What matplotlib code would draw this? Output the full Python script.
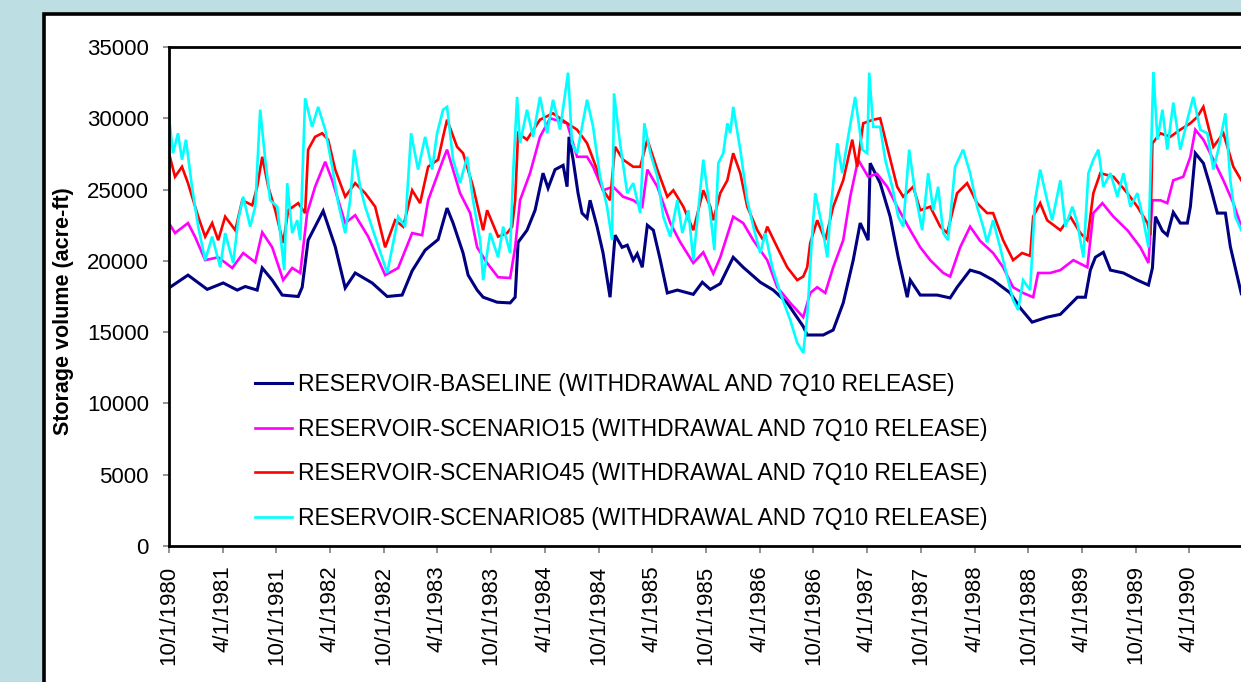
import numpy as np
import pandas as pd
import matplotlib
matplotlib.use("Agg")
import matplotlib.pyplot as plt
import matplotlib.dates as mdates
from matplotlib.patches import Rectangle

plt.rcParams['font.family'] = ['Liberation Sans', 'DejaVu Sans']

# time in decimal years, storage in acre-ft
base_t = [1980.750, 1980.927, 1981.104, 1981.253, 1981.383, 1981.458, 1981.569, 1981.616, 1981.709, 1981.802,
          1981.951, 1981.988, 1982.044, 1982.184, 1982.296, 1982.389, 1982.482, 1982.640, 1982.780, 1982.919,
          1983.013, 1983.134, 1983.255, 1983.338, 1983.394, 1983.487, 1983.534, 1983.618, 1983.674, 1983.804,
          1983.925, 1983.972, 1984.000, 1984.083, 1984.158, 1984.232, 1984.279, 1984.344, 1984.419, 1984.456,
          1984.474, 1984.512, 1984.558, 1984.595, 1984.642, 1984.670, 1984.735, 1984.791, 1984.856, 1984.903,
          1984.968, 1985.014, 1985.070, 1985.107, 1985.154, 1985.201, 1985.257, 1985.322, 1985.387, 1985.480,
          1985.629, 1985.713, 1985.787, 1985.880, 1986.001, 1986.094, 1986.253, 1986.374, 1986.504, 1986.653,
          1986.690, 1986.839, 1986.932, 1987.026, 1987.119, 1987.184, 1987.258, 1987.277, 1987.370, 1987.463,
          1987.538, 1987.622, 1987.650, 1987.743, 1987.901, 1988.022, 1988.087, 1988.208, 1988.301, 1988.422,
          1988.581, 1988.674, 1988.785, 1988.925, 1989.046, 1989.204, 1989.279, 1989.325, 1989.372, 1989.446,
          1989.512, 1989.633, 1989.763, 1989.866, 1989.903, 1989.931, 1989.996, 1990.042, 1990.098, 1990.163,
          1990.229, 1990.257, 1990.303, 1990.378, 1990.443, 1990.508, 1990.583, 1990.629, 1990.694, 1990.731]
base_v = [18100, 19000, 18000, 18450, 17950, 18200, 17950, 19500, 18650, 17600,
          17500, 18150, 21450, 23500, 21000, 18100, 19150, 18450, 17500, 17600,
          19300, 20750, 21500, 23700, 22650, 20550, 19000, 17950, 17450, 17100,
          17050, 17450, 21300, 22150, 23550, 26150, 25100, 26400, 26700, 25200,
          28700, 27100, 24750, 23350, 23000, 24250, 22400, 20550, 17450, 21800,
          20950, 21100, 20050, 20500, 19550, 22500, 22150, 20050, 17750, 17950,
          17650, 18500, 18000, 18400, 20250, 19550, 18500, 17950, 17050, 15400,
          14800, 14800, 15150, 17050, 20050, 22650, 21450, 26850, 25450, 23100,
          20250, 17450, 18650, 17600, 17600, 17400, 18150, 19350, 19150, 18650,
          17750, 16700, 15700, 16050, 16250, 17450, 17450, 19350, 20250, 20600,
          19350, 19150, 18650, 18300, 19500, 23100, 22100, 21800, 23400, 22650,
          22650, 23800, 27550, 26850, 25200, 23350, 23350, 21000, 18900, 17700]

s15_t = [1980.750, 1980.806, 1980.927, 1980.992, 1981.085, 1981.206, 1981.337, 1981.439, 1981.551, 1981.616,
         1981.709, 1981.811, 1981.895, 1981.970, 1982.035, 1982.109, 1982.203, 1982.268, 1982.389, 1982.482,
         1982.603, 1982.761, 1982.882, 1983.013, 1983.106, 1983.162, 1983.301, 1983.338, 1983.459, 1983.553,
         1983.618, 1983.711, 1983.813, 1983.925, 1983.972, 1984.018, 1984.111, 1984.204, 1984.298, 1984.456,
         1984.549, 1984.642, 1984.698, 1984.791, 1984.884, 1984.977, 1985.070, 1985.154, 1985.201, 1985.294,
         1985.415, 1985.508, 1985.629, 1985.722, 1985.815, 1985.880, 1986.001, 1986.094, 1986.188, 1986.318,
         1986.411, 1986.532, 1986.653, 1986.718, 1986.783, 1986.858, 1986.932, 1987.026, 1987.091, 1987.165,
         1987.258, 1987.342, 1987.435, 1987.528, 1987.650, 1987.743, 1987.836, 1987.957, 1988.022, 1988.115,
         1988.208, 1988.301, 1988.422, 1988.515, 1988.608, 1988.701, 1988.795, 1988.841, 1988.953, 1989.046,
         1989.167, 1989.297, 1989.353, 1989.437, 1989.540, 1989.670, 1989.791, 1989.866, 1989.903, 1989.977,
         1990.042, 1990.098, 1990.191, 1990.257, 1990.303, 1990.378, 1990.471, 1990.564, 1990.657, 1990.731]
s15_v = [22650, 21950, 22650, 21700, 20050, 20250, 19500, 20550, 19900, 22000,
         20950, 18650, 19500, 19150, 23350, 25200, 26950, 25650, 22650, 23200,
         21700, 19000, 19500, 21950, 21800, 24250, 27100, 27800, 24750, 23350,
         20950, 19850, 18850, 18800, 20950, 24250, 26150, 28700, 30000, 29650,
         27300, 27300, 26600, 24950, 25200, 24500, 24250, 23800, 26400, 25200,
         22650, 21300, 19850, 20600, 19100, 20250, 23100, 22650, 21450, 20050,
         18150, 17050, 16050, 17750, 18150, 17750, 19550, 21450, 24500, 27100,
         25900, 26100, 25200, 23800, 22150, 20950, 20050, 19150, 18900, 20950,
         22400, 21400, 20550, 19550, 18150, 17750, 17450, 19150, 19150, 19350,
         20050, 19550, 23350, 24050, 23100, 22150, 20950, 19850, 24250, 24250,
         24050, 25650, 25900, 27300, 29200, 28500, 27100, 25650, 24050, 22400]

s45_t = [1980.750, 1980.806, 1980.871, 1980.927, 1981.020, 1981.085, 1981.150, 1981.206, 1981.271, 1981.365,
         1981.430, 1981.523, 1981.569, 1981.616, 1981.672, 1981.737, 1981.811, 1981.858, 1981.951, 1982.016,
         1982.044, 1982.109, 1982.175, 1982.230, 1982.296, 1982.389, 1982.482, 1982.575, 1982.668, 1982.761,
         1982.854, 1982.929, 1983.013, 1983.087, 1983.162, 1983.255, 1983.301, 1983.338, 1983.431, 1983.487,
         1983.580, 1983.674, 1983.711, 1983.813, 1983.897, 1983.944, 1983.972, 1984.000, 1984.083, 1984.204,
         1984.325, 1984.456, 1984.549, 1984.642, 1984.735, 1984.791, 1984.856, 1984.903, 1984.977, 1985.070,
         1985.135, 1985.201, 1985.294, 1985.387, 1985.443, 1985.536, 1985.629, 1985.722, 1985.787, 1985.815,
         1985.880, 1985.946, 1986.001, 1986.067, 1986.132, 1986.225, 1986.281, 1986.318, 1986.411, 1986.504,
         1986.597, 1986.653, 1986.690, 1986.718, 1986.783, 1986.858, 1986.932, 1987.026, 1987.110, 1987.156,
         1987.212, 1987.305, 1987.370, 1987.435, 1987.528, 1987.584, 1987.677, 1987.743, 1987.836, 1987.929,
         1987.994, 1988.087, 1988.180, 1988.273, 1988.366, 1988.422, 1988.515, 1988.608, 1988.692, 1988.767,
         1988.795, 1988.860, 1988.925, 1989.046, 1989.139, 1989.232, 1989.297, 1989.353, 1989.418, 1989.540,
         1989.670, 1989.763, 1989.857, 1989.884, 1989.903, 1989.977, 1990.070, 1990.163, 1990.257, 1990.322,
         1990.378, 1990.471, 1990.564, 1990.657, 1990.731]
s45_v = [27550, 25900, 26600, 25450, 23100, 21700, 22650, 21450, 23100, 22150,
         24250, 23900, 25200, 27300, 25200, 23550, 21250, 23550, 24050, 23350,
         27800, 28700, 28950, 28500, 26400, 24500, 25450, 24750, 23800, 20950,
         22850, 22400, 24950, 24050, 26600, 27100, 28700, 29900, 28000, 27550,
         25200, 22150, 23550, 21700, 21950, 22400, 24250, 28950, 28500, 29900,
         30350, 29650, 29200, 28250, 26400, 24950, 24250, 28000, 27100, 26600,
         26600, 28500, 26400, 24500, 24950, 23800, 22150, 24950, 23800, 22850,
         24750, 25650, 27550, 26150, 23800, 22150, 21450, 22400, 20950, 19550,
         18650, 18900, 19550, 21250, 22850, 21450, 23800, 25650, 28500, 26600,
         29650, 29900, 30000, 28000, 25200, 24500, 25200, 23550, 23800, 22400,
         21950, 24750, 25450, 24050, 23350, 23350, 21450, 20050, 20550, 20350,
         23100, 24050, 22850, 22150, 23100, 21950, 21450, 24750, 26150, 25900,
         24750, 23800, 22650, 21800, 28250, 28950, 28700, 29200, 29650, 30100,
         30800, 28000, 28950, 26600, 25650]

s85_t = [1980.750, 1980.787, 1980.834, 1980.871, 1980.908, 1980.964, 1981.020, 1981.085, 1981.150, 1981.225,
         1981.271, 1981.346, 1981.392, 1981.439, 1981.504, 1981.551, 1981.597, 1981.644, 1981.690, 1981.756,
         1981.821, 1981.849, 1981.895, 1981.942, 1981.970, 1982.016, 1982.081, 1982.137, 1982.203, 1982.268,
         1982.324, 1982.389, 1982.435, 1982.473, 1982.528, 1982.575, 1982.668, 1982.780, 1982.854, 1982.882,
         1982.947, 1983.003, 1983.068, 1983.134, 1983.199, 1983.245, 1983.301, 1983.338, 1983.394, 1983.459,
         1983.525, 1983.580, 1983.646, 1983.674, 1983.739, 1983.813, 1983.860, 1983.925, 1983.953, 1983.990,
         1984.018, 1984.083, 1984.139, 1984.204, 1984.270, 1984.325, 1984.391, 1984.465, 1984.502, 1984.549,
         1984.642, 1984.698, 1984.763, 1984.828, 1984.875, 1984.893, 1984.949, 1985.014, 1985.070, 1985.135,
         1985.173, 1985.229, 1985.294, 1985.350, 1985.415, 1985.480, 1985.527, 1985.583, 1985.629, 1985.722,
         1985.787, 1985.825, 1985.862, 1985.908, 1985.946, 1985.973, 1986.001, 1986.067, 1986.132, 1986.188,
         1986.253, 1986.300, 1986.365, 1986.439, 1986.532, 1986.597, 1986.653, 1986.690, 1986.737, 1986.765,
         1986.830, 1986.877, 1986.905, 1986.970, 1987.017, 1987.072, 1987.137, 1987.203, 1987.249, 1987.268,
         1987.305, 1987.370, 1987.417, 1987.482, 1987.538, 1987.584, 1987.640, 1987.696, 1987.761, 1987.817,
         1987.864, 1987.910, 1987.957, 1988.003, 1988.068, 1988.143, 1988.208, 1988.273, 1988.329, 1988.366,
         1988.422, 1988.487, 1988.553, 1988.608, 1988.655, 1988.701, 1988.767, 1988.813, 1988.860, 1988.925,
         1988.972, 1989.046, 1989.093, 1989.158, 1989.204, 1989.260, 1989.307, 1989.353, 1989.400, 1989.446,
         1989.512, 1989.577, 1989.633, 1989.698, 1989.763, 1989.819, 1989.866, 1989.884, 1989.912, 1989.950,
         1989.996, 1990.042, 1990.098, 1990.163, 1990.229, 1990.284, 1990.349, 1990.415, 1990.471, 1990.517,
         1990.583, 1990.629, 1990.675, 1990.731]
s85_v = [30100, 27550, 28950, 27100, 28500, 25200, 22400, 20050, 21700, 19550,
         21950, 19850, 22850, 24500, 22400, 23800, 30600, 27100, 24250, 23800,
         19350, 25450, 21950, 22850, 21450, 31400, 29400, 30800, 29200, 26600,
         24050, 21950, 24250, 27800, 25200, 23800, 21700, 19150, 21950, 23100,
         22400, 28950, 26400, 28700, 26400, 28950, 30600, 30800, 27100, 25450,
         27300, 24250, 21450, 18650, 21950, 20250, 22400, 20550, 26150, 31500,
         28250, 30600, 28700, 31500, 28950, 31300, 29200, 33200, 28250, 27550,
         31300, 29400, 25900, 23800, 21450, 31750, 28250, 24750, 25450, 23350,
         29650, 27550, 25900, 23100, 21700, 24250, 21950, 23550, 20050, 27100,
         23350, 20750, 26850, 27550, 29650, 28950, 30800, 27800, 24250, 22400,
         20550, 21950, 19550, 17750, 15850, 14250, 13550, 16050, 21950, 24750,
         22400, 20250, 23350, 28250, 26150, 28700, 31500, 27800, 27550, 33200,
         29400, 29400, 27100, 25200, 23100, 22400, 27800, 24750, 22150, 26150,
         23550, 25200, 21950, 21450, 26600, 27800, 26150, 23800, 22400, 21300,
         22850, 20950, 18900, 17250, 16550, 18650, 17950, 24250, 26400, 24250,
         22850, 25650, 22400, 23800, 22650, 20250, 26150, 27100, 27800, 25200,
         26150, 24500, 26150, 23800, 24750, 22850, 20950, 25900, 33250, 28500,
         30600, 27800, 31100, 27800, 29900, 31500, 29200, 28950, 26400, 27800,
         30350, 25650, 23100, 22150]

labels = ["RESERVOIR-BASELINE (WITHDRAWAL AND 7Q10 RELEASE)",
          "RESERVOIR-SCENARIO15 (WITHDRAWAL AND 7Q10 RELEASE)",
          "RESERVOIR-SCENARIO45 (WITHDRAWAL AND 7Q10 RELEASE)",
          "RESERVOIR-SCENARIO85 (WITHDRAWAL AND 7Q10 RELEASE)"]
colors = ["#000080", "#ff00ff", "#ff0000", "#00ffff"]
widths = [2.2, 1.9, 1.9, 1.9]
y_ticks = [0, 5000, 10000, 15000, 20000, 25000, 30000, 35000]


def to_dates(t):
    t = np.asarray(t)
    yr = np.floor(t).astype(int)
    frac = t - yr
    return pd.to_datetime([f"{y}-01-01" for y in yr]) + pd.to_timedelta(frac * 365.25, unit="D")


W, H = 1241, 682
fig = plt.figure(figsize=(W / 100, H / 100), dpi=100)
fig.patch.set_facecolor("#bddfe4")

# white panel with thick black border, cropped on right and bottom
fig.patches.append(Rectangle((44 / W, -0.2), 1.2, (H - 14) / H + 0.2, transform=fig.transFigure,
                             facecolor="white", edgecolor="black", linewidth=2.6, zorder=-10))

ax = fig.add_axes([169 / W, (H - 546) / H, (W - 169) / W, (546 - 47) / H])
ax.set_facecolor("white")

series = [(base_t, base_v), (s15_t, s15_v), (s45_t, s45_v), (s85_t, s85_v)]
for (t, v), lab, c, lw in zip(series, labels, colors, widths):
    ax.plot(to_dates(t), v, color=c, lw=lw, label=lab, solid_joinstyle="miter")

ax.set_ylim(0, 35000)
ax.set_yticks(y_ticks)
ax.set_xlim(pd.Timestamp("1980-10-01"), pd.Timestamp("1990-09-24"))
ax.xaxis.set_major_locator(mdates.MonthLocator(bymonth=[4, 10], bymonthday=1))
ax.xaxis.set_major_formatter(plt.FuncFormatter(
    lambda x, pos: "{d.month}/{d.day}/{d.year}".format(d=mdates.num2date(x))))

for s in ["left", "top", "bottom"]:
    ax.spines[s].set_linewidth(2.0)
ax.spines["right"].set_visible(False)
ax.tick_params(axis="y", length=4.5, width=1.2, color="#808080", pad=10, labelsize=16)
ax.tick_params(axis="x", length=5, width=1.2, color="#808080", pad=9, labelsize=16, labelrotation=90)

fig.text(63 / W, 1 - 311.5 / H, "Storage volume (acre-ft)", rotation=90, ha="center", va="center",
         fontsize=15.5, fontweight="bold")

ax.legend(loc="center left", bbox_to_anchor=((255 - 169) / (W - 169), (546 - 451.5) / 499),
          frameon=False, fontsize=16.5, handlelength=1.6, handletextpad=0.28,
          labelspacing=0.94, borderpad=0, borderaxespad=0)

fig.savefig("out.png", dpi=100, facecolor=fig.get_facecolor())
